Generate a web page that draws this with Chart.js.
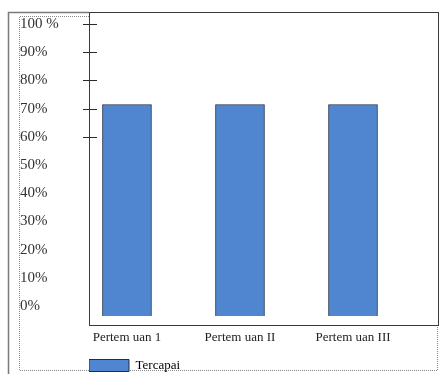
<!DOCTYPE html>
<html>
<head>
<meta charset="utf-8">
<script src="https://cdn.jsdelivr.net/npm/chart.js@4"></script>
<style>
  html, body { margin: 0; padding: 0; background: #ffffff; }
  #wrap { width: 446px; height: 374px; }
</style>
</head>
<body>
<div id="wrap"><canvas id="chart" width="446" height="374"></canvas></div>
<script>
// Categories, series and tick labels
const categories = ['Pertem uan 1', 'Pertem uan II', 'Pertem uan III'];
const seriesLabel = 'Tercapai';
const tercapai = [75, 75, 75];
const yTickValues = [0, 10, 20, 30, 40, 50, 60, 70, 80, 90, 100];
const yTickLabels = ['0%', '10%', '20%', '30%', '40%', '50%', '60%', '70%', '80%', '90%', '100 %'];
const markedTicks = [60, 70, 80, 90, 100];

const LABEL_SHIFT = -10;
const LEGEND_DROP = 8;
const serif = '"Liberation Serif", "DejaVu Serif", serif';

// Frame lines around the plot and the page edges
const framePlugin = {
  id: 'frames',
  afterLayout(chart) {
    // push the legend row down towards the bottom edge
    const lg = chart.legend;
    if (lg) { lg.top += LEGEND_DROP; lg.bottom += LEGEND_DROP; }
  },
  beforeDraw(chart) {
    const { ctx, chartArea: a } = chart;
    ctx.save();
    ctx.fillStyle = '#ffffff';
    ctx.fillRect(0, 0, chart.width, chart.height);

    // solid grey edge
    ctx.strokeStyle = '#7a7a7a';
    ctx.lineWidth = 1.5;
    ctx.beginPath();
    ctx.moveTo(8.5, chart.height);
    ctx.lineTo(8.5, 12.5);
    ctx.lineTo(a.left, 12.5);
    ctx.stroke();

    // dotted box
    ctx.strokeStyle = '#8a8a8a';
    ctx.lineWidth = 1;
    ctx.setLineDash([1, 1]);
    ctx.beginPath();
    ctx.moveTo(a.left, 16.5);
    ctx.lineTo(19.5, 16.5);
    ctx.lineTo(19.5, 370.5);
    ctx.lineTo(a.right - 1.5, 370.5);
    ctx.lineTo(a.right - 1.5, a.bottom);
    ctx.stroke();
    ctx.restore();
  },
  afterDatasetsDraw(chart) {
    const { ctx, chartArea: a } = chart;
    const y = chart.scales.y;
    ctx.save();
    ctx.strokeStyle = '#3a3a3a';
    ctx.lineWidth = 1;
    ctx.strokeRect(Math.round(a.left) + 0.5, Math.round(a.top) + 0.5,
                   Math.round(a.right - a.left) - 1, Math.round(a.bottom - a.top));
    // short tick marks across the value axis
    ctx.strokeStyle = '#2a2a2a';
    markedTicks.forEach(v => {
      const py = Math.round(y.getPixelForValue(v) + LABEL_SHIFT) + 0.5;
      ctx.beginPath();
      ctx.moveTo(a.left - 6, py);
      ctx.lineTo(a.left + 8, py);
      ctx.stroke();
    });
    ctx.restore();
  }
};

new Chart(document.getElementById('chart'), {
  type: 'bar',
  data: {
    datasets: [{
      label: seriesLabel,
      data: tercapai.map((v, i) => ({ x: i, y: v })),
      backgroundColor: '#4f86cf',
      borderColor: '#1e2d4a',
      borderWidth: 1,
      barThickness: 49
    }]
  },
  options: {
    responsive: false,
    animation: false,
    devicePixelRatio: 1,
    layout: { padding: { left: 20, top: 12, right: 7, bottom: 0 } },
    plugins: {
      legend: {
        position: 'bottom',
        align: 'start',
        fullSize: false,
        labels: {
          boxWidth: 40,
          boxHeight: 12,
          padding: 0,
          color: '#222222',
          font: { family: serif, size: 13 },
          generateLabels(chart) {
            const ds = chart.data.datasets[0];
            return [{
              text: ds.label,
              fillStyle: ds.backgroundColor,
              strokeStyle: ds.borderColor,
              lineWidth: 1,
              datasetIndex: 0
            }];
          }
        }
      },
      tooltip: { enabled: false }
    },
    scales: {
      x: {
        type: 'linear',
        offset: false,
        min: -0.336,
        max: 2.761,
        grid: { display: false, drawTicks: false },
        border: { display: false },
        afterBuildTicks(scale) {
          scale.ticks = categories.map((c, i) => ({ value: i }));
        },
        ticks: {
          padding: 5,
          maxRotation: 0,
          autoSkip: false,
          color: '#222222',
          font: { family: serif, size: 13 },
          callback: (v) => categories[v]
        },
        afterFit(scale) { scale.height = 26; }
      },
      y: {
        min: -3.2,
        max: 107.8,
        grid: { display: false, drawTicks: false },
        border: { display: false },
        afterBuildTicks(scale) {
          scale.ticks = yTickValues.map(v => ({ value: v }));
        },
        ticks: {
          crossAlign: 'far',
          labelOffset: LABEL_SHIFT,
          color: '#333333',
          font: { family: serif, size: 15 },
          callback: (v) => yTickLabels[yTickValues.indexOf(v)]
        },
        afterFit(scale) { scale.width = 69; }
      }
    }
  },
  plugins: [framePlugin]
});
</script>
</body>
</html>
